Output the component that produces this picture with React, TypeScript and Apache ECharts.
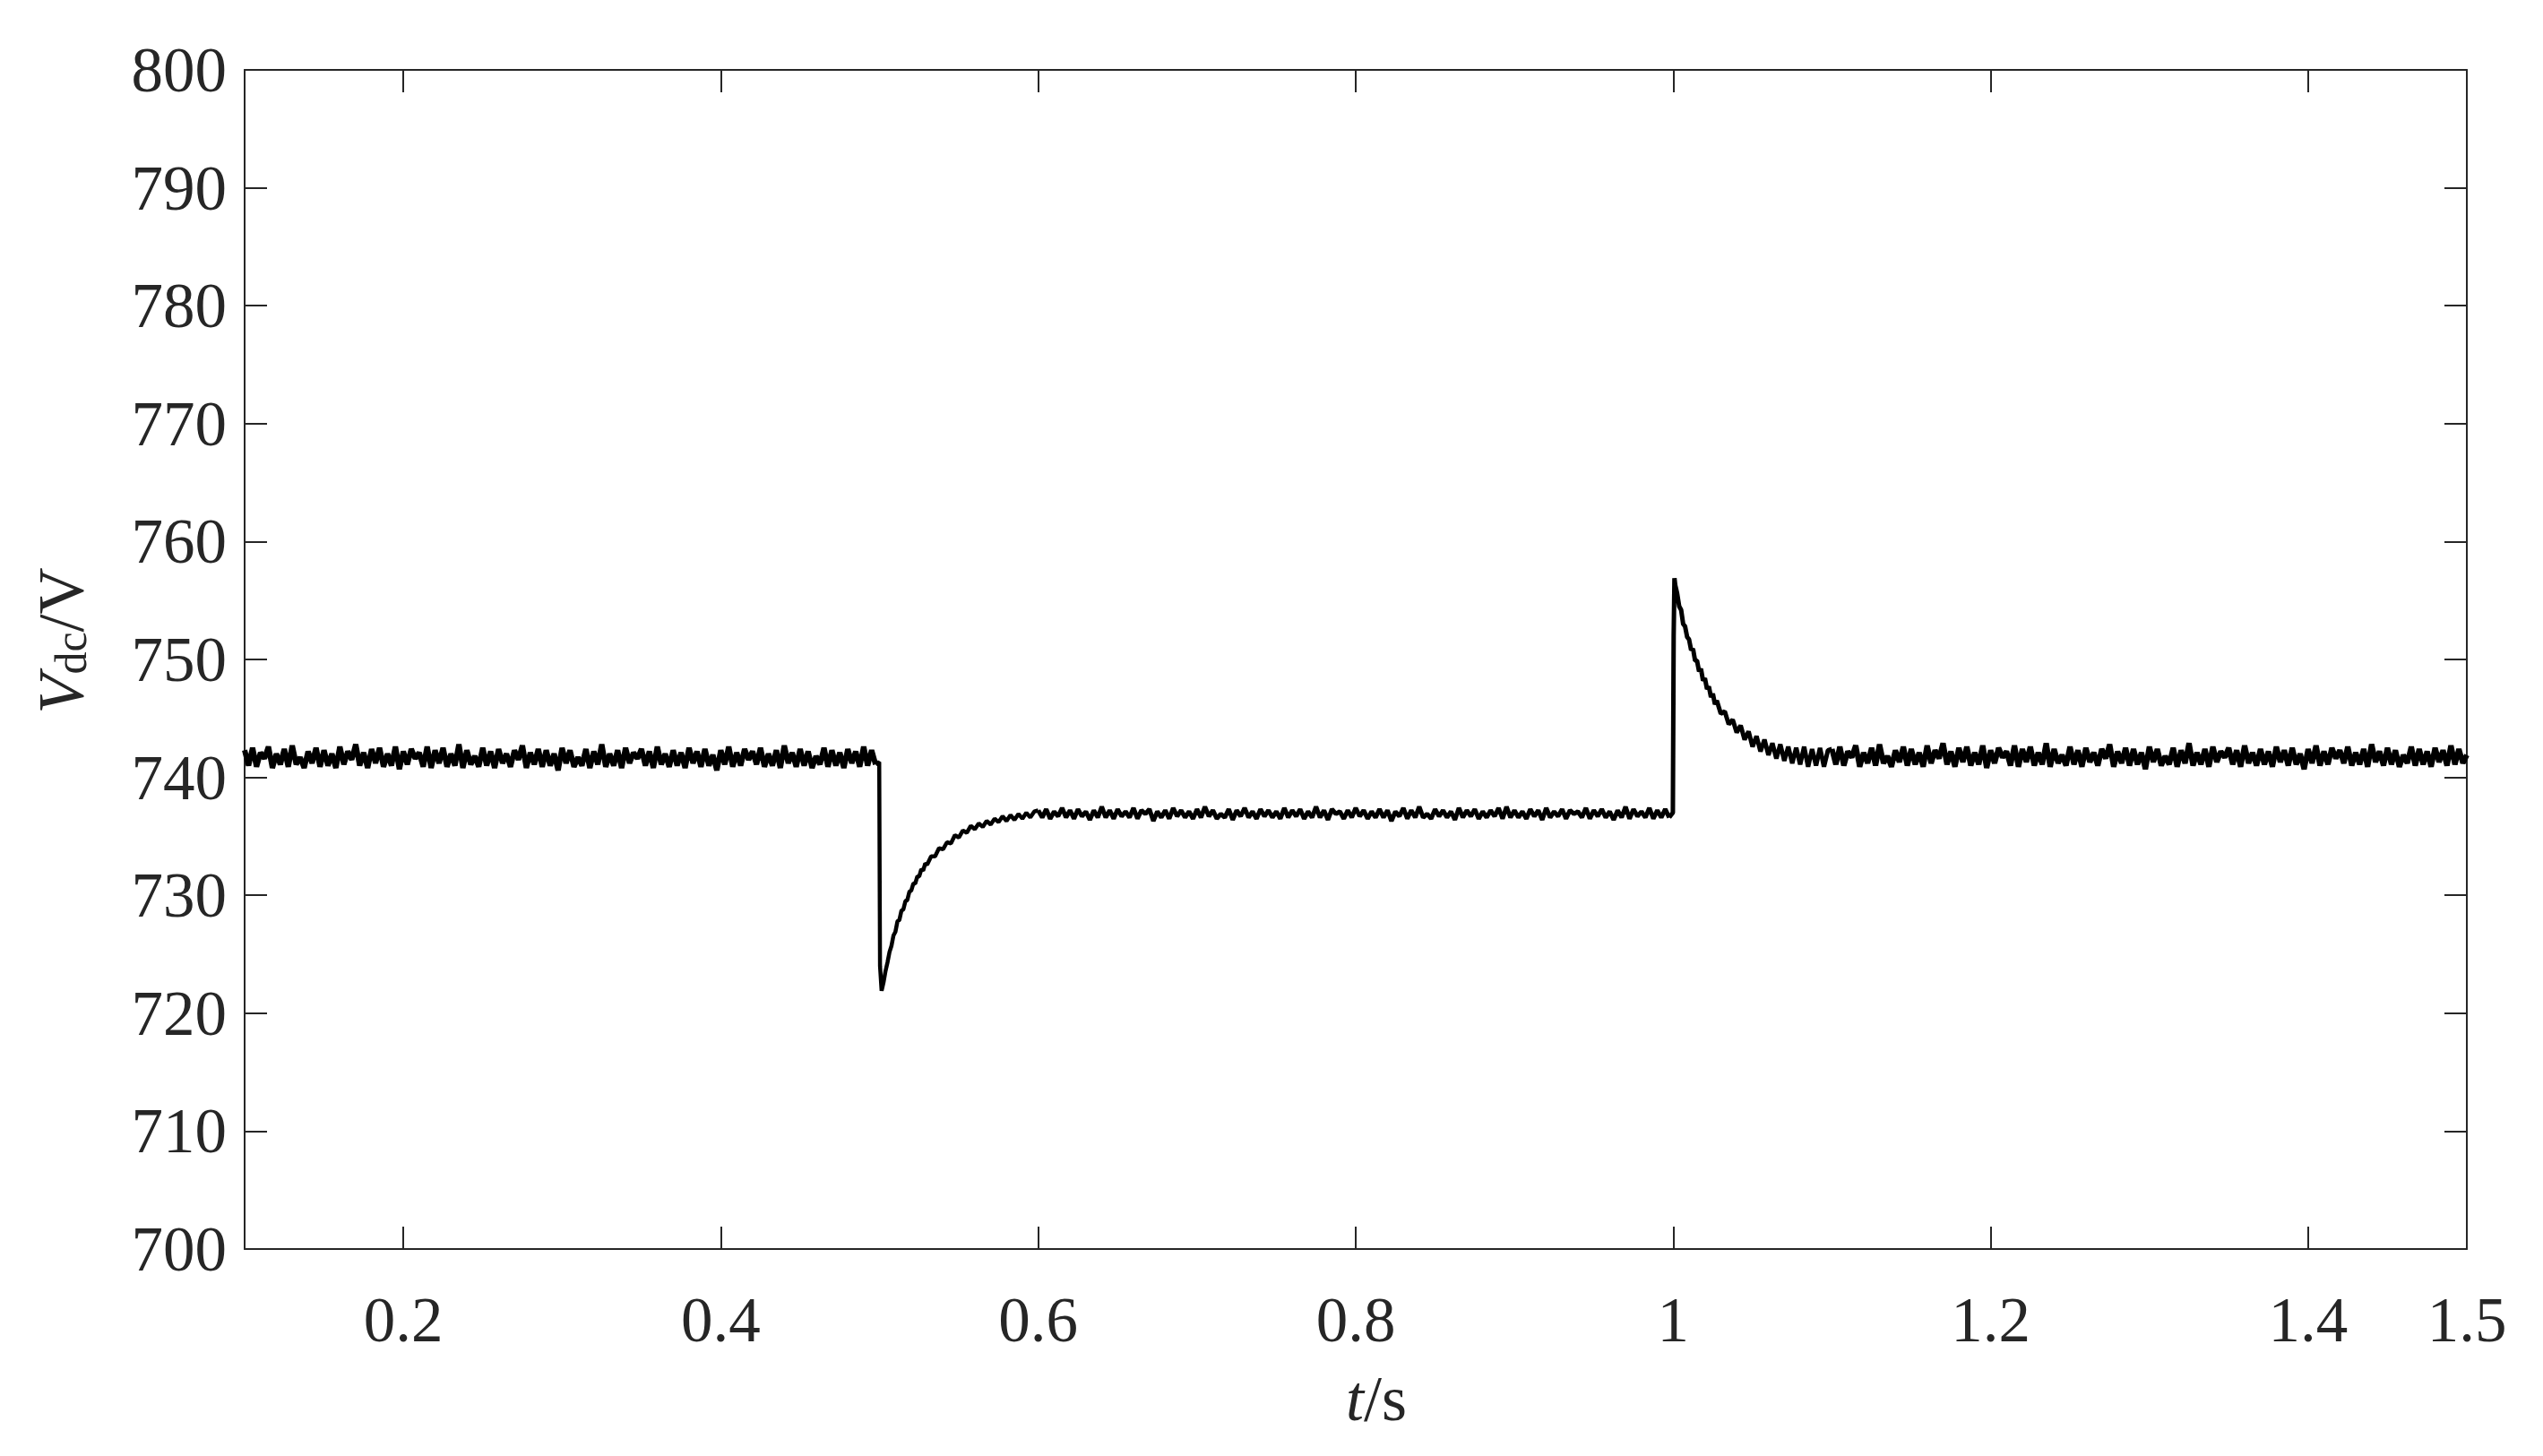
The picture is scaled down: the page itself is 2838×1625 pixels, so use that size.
import React, { useEffect, useRef } from 'react';
import * as echarts from 'echarts';

// ---------------- data ----------------
const X_MIN = 0.1;
const X_MAX = 1.5;
const Y_MIN = 700;
const Y_MAX = 800;
const Y_STEP = 10;
const xTickValues = [0.2, 0.4, 0.6, 0.8, 1, 1.2, 1.4];
const xLabelValues = [0.2, 0.4, 0.6, 0.8, 1, 1.2, 1.4, 1.5];

const SAMPLE_STEP = 0.0025;

// steady state before the load step (t = 0.1 ... 0.4975)
const preStart = 0.1;
const preValues = [
  742.3, 741.0, 742.5, 740.9, 742.1, 741.6, 742.6, 740.8, 742.0, 741.1,
  742.4, 740.9, 742.7, 741.1, 741.7, 740.8, 742.2, 741.2, 742.5, 740.9,
  742.3, 741.0, 742.0, 740.8, 742.6, 741.1, 742.2, 741.5, 742.8, 741.0,
  742.1, 740.8, 742.4, 741.2, 742.5, 740.9, 742.0, 741.0, 742.6, 740.7,
  742.2, 741.1, 742.4, 741.6, 742.1, 740.9, 742.6, 740.8, 742.3, 741.2,
  742.5, 740.9, 742.0, 741.0, 742.8, 740.8, 742.3, 741.1, 741.8, 740.9,
  742.5, 741.0, 742.2, 740.8, 742.4, 741.2, 742.0, 740.9, 742.3, 741.5,
  742.7, 740.8, 742.1, 741.1, 742.4, 740.9, 742.3, 741.0, 742.0, 740.6,
  742.5, 741.2, 742.3, 740.9, 741.7, 741.0, 742.4, 740.8, 742.2, 741.1,
  742.8, 740.9, 742.0, 741.0, 742.3, 740.8, 742.5, 741.2, 742.1, 741.6,
  742.4, 741.0, 742.2, 740.8, 742.6, 741.1, 742.0, 740.9, 742.3, 741.0,
  742.1, 740.8, 742.5, 741.2, 742.2, 740.9, 742.4, 741.0, 741.9, 740.6,
  742.3, 741.1, 742.6, 740.9, 742.1, 741.0, 742.4, 741.5, 742.2, 741.1,
  742.5, 740.9, 742.0, 741.0, 742.3, 740.8, 742.7, 741.2, 742.1, 740.9,
  742.4, 741.0, 742.2, 740.8, 741.8, 741.1, 742.5, 740.9, 742.3, 741.0,
  742.1, 740.8, 742.4, 741.2, 742.2, 740.9, 742.6, 741.0, 742.3, 741.1,
];

// drop at t = 0.5 and recovery
const dropTimes = [
  0.4998, 0.5003, 0.5013, 0.5025, 0.5038, 0.505, 0.5063, 0.5075, 0.5088, 0.51,
  0.5113, 0.5125, 0.5138, 0.515, 0.5163, 0.5175, 0.5188, 0.52, 0.5213, 0.5225,
  0.5238, 0.525, 0.5263, 0.5275, 0.5288, 0.53, 0.5325, 0.535, 0.5375, 0.54,
  0.5425, 0.545, 0.5475, 0.55, 0.5525, 0.555, 0.5575, 0.56, 0.5625, 0.565,
  0.5675, 0.57, 0.5725, 0.575, 0.5775, 0.58, 0.5825, 0.585, 0.5875, 0.59,
  0.5925, 0.595, 0.5975,
];
const dropValues = [
  741.3, 724.0, 721.9, 722.6, 723.6, 724.3, 725.2, 725.7, 726.6, 726.9,
  727.8, 727.9, 728.7, 728.8, 729.5, 729.6, 730.3, 730.4, 731.0, 731.0,
  731.6, 731.6, 732.2, 732.1, 732.7, 732.6, 733.3, 733.3, 734.0, 733.9,
  734.5, 734.4, 735.1, 734.9, 735.5, 735.3, 735.9, 735.6, 736.1, 735.8,
  736.3, 736.0, 736.5, 736.2, 736.7, 736.3, 736.8, 736.4, 736.9, 736.5,
  737.0, 736.6, 737.1,
];

// intermediate steady state (t = 0.6 ... 0.9975)
const midStart = 0.6;
const midValues = [
  737.2, 736.6, 737.3, 736.5, 737.1, 736.7, 737.4, 736.6, 737.2, 736.5,
  737.3, 736.7, 737.1, 736.4, 737.2, 736.6, 737.5, 736.6, 737.2, 736.5,
  737.3, 736.7, 737.1, 736.6, 737.4, 736.5, 737.2, 736.9, 737.3, 736.3,
  737.1, 736.6, 737.2, 736.5, 737.4, 736.7, 737.2, 736.6, 737.1, 736.5,
  737.3, 736.6, 737.5, 736.7, 737.2, 736.5, 736.9, 736.6, 737.3, 736.4,
  737.2, 736.7, 737.4, 736.6, 737.1, 736.5, 737.3, 736.7, 737.2, 736.6,
  737.1, 736.5, 737.4, 736.6, 737.2, 736.7, 737.3, 736.5, 737.1, 736.6,
  737.5, 736.6, 737.2, 736.4, 737.3, 736.9, 737.1, 736.5, 737.2, 736.6,
  737.4, 736.7, 737.2, 736.5, 737.1, 736.6, 737.3, 736.6, 737.2, 736.3,
  737.1, 736.7, 737.4, 736.5, 737.2, 736.6, 737.5, 736.6, 736.9, 736.5,
  737.3, 736.7, 737.2, 736.6, 737.1, 736.4, 737.4, 736.6, 737.2, 736.7,
  737.3, 736.5, 737.1, 736.6, 737.2, 736.7, 737.4, 736.5, 737.5, 736.6,
  737.2, 736.6, 737.1, 736.5, 737.3, 736.7, 737.2, 736.4, 737.4, 736.6,
  737.1, 736.7, 737.3, 736.5, 737.2, 736.9, 737.1, 736.6, 737.4, 736.5,
  737.2, 736.7, 737.3, 736.6, 737.1, 736.4, 737.2, 736.6, 737.5, 736.5,
  737.3, 736.7, 737.1, 736.6, 737.4, 736.5, 737.2, 736.6, 737.3, 736.6,
];

// overshoot at t = 1.0 and decay
const riseTimes = [
  0.9998, 1.0003, 1.0008, 1.0013, 1.0025, 1.0038, 1.005, 1.0063, 1.0075, 1.0088,
  1.01, 1.0113, 1.0125, 1.0138, 1.015, 1.0163, 1.0175, 1.0188, 1.02, 1.0213,
  1.0225, 1.0238, 1.025, 1.0263, 1.0275, 1.03, 1.0325, 1.035, 1.0375, 1.04,
  1.0425, 1.045, 1.0475, 1.05, 1.0525, 1.055, 1.0575, 1.06, 1.0625, 1.065,
  1.0675, 1.07, 1.0725, 1.075, 1.0775, 1.08, 1.0825, 1.085, 1.0875, 1.09,
  1.0925, 1.095, 1.0975,
];
const riseValues = [
  737.0, 752.0, 756.9, 756.3, 755.6, 754.5, 754.2, 753.0, 752.8, 751.9,
  751.7, 750.8, 750.9, 749.9, 749.9, 749.0, 749.2, 748.2, 748.4, 747.5,
  747.7, 746.8, 747.1, 746.2, 746.5, 745.4, 745.6, 744.5, 744.9, 743.8,
  744.4, 743.2, 743.9, 742.6, 743.5, 742.2, 743.2, 741.9, 742.9, 741.6,
  742.8, 741.4, 742.6, 741.2, 742.5, 741.1, 742.6, 740.9, 742.4, 741.0,
  742.5, 740.9, 742.3,
];

// final steady state (t = 1.1 ... 1.5)
const postStart = 1.1;
const postValues = [
  742.4, 741.1, 742.6, 741.0, 742.2, 741.7, 742.7, 740.9, 742.1, 741.2,
  742.5, 741.0, 742.8, 741.2, 741.8, 740.9, 742.3, 741.3, 742.6, 741.0,
  742.4, 741.1, 742.1, 740.9, 742.7, 741.2, 742.3, 741.6, 742.9, 741.1,
  742.2, 740.9, 742.5, 741.3, 742.6, 741.0, 742.1, 741.1, 742.7, 740.8,
  742.3, 741.2, 742.5, 741.7, 742.2, 741.0, 742.7, 740.9, 742.4, 741.3,
  742.6, 741.0, 742.1, 741.1, 742.9, 740.9, 742.4, 741.2, 741.9, 741.0,
  742.6, 741.1, 742.3, 740.9, 742.5, 741.3, 742.1, 741.0, 742.4, 741.6,
  742.8, 740.9, 742.2, 741.2, 742.5, 741.0, 742.4, 741.1, 742.1, 740.7,
  742.6, 741.3, 742.4, 741.0, 741.8, 741.1, 742.5, 740.9, 742.3, 741.2,
  742.9, 741.0, 742.1, 741.1, 742.4, 740.9, 742.6, 741.3, 742.2, 741.7,
  742.5, 741.1, 742.3, 740.9, 742.7, 741.2, 742.1, 741.0, 742.4, 741.1,
  742.2, 740.9, 742.6, 741.3, 742.3, 741.0, 742.5, 741.1, 742.0, 740.7,
  742.4, 741.2, 742.7, 741.0, 742.2, 741.1, 742.5, 741.6, 742.3, 741.2,
  742.6, 741.0, 742.1, 741.1, 742.4, 740.9, 742.8, 741.3, 742.2, 741.0,
  742.5, 741.1, 742.3, 740.9, 741.9, 741.2, 742.6, 741.0, 742.4, 741.1,
  742.2, 740.9, 742.5, 741.3, 742.3, 741.0, 742.7, 741.1, 742.4, 741.2,
  741.9,
];

// ---------------- build ----------------
const gridSeries = (start: number, values: number[]) =>
  values.map((v, i) => [Number((start + i * SAMPLE_STEP).toFixed(5)), v]);
const pairSeries = (times: number[], values: number[]) =>
  times.map((t, i) => [t, values[i]]);

const preData = gridSeries(preStart, preValues);
const midData = gridSeries(midStart, midValues);
const postData = gridSeries(postStart, postValues);
// transients are joined to the neighbouring steady-state samples
const dropData = [preData[preData.length - 1], ...pairSeries(dropTimes, dropValues), midData[0]];
const riseData = [midData[midData.length - 1], ...pairSeries(riseTimes, riseValues), postData[0]];

const FONT = '"Liberation Serif", "Times New Roman", serif';
const AXIS_COLOR = '#262626';
const TEXT_COLOR = '#262626';

const lineSeries = (data: number[][], width: number) => ({
  type: 'line',
  xAxisIndex: 0,
  yAxisIndex: 0,
  data,
  showSymbol: false,
  symbol: 'none',
  lineStyle: { color: '#000000', width },
  emphasis: { disabled: true },
  z: 3,
});

export default function App() {
  const ref = useRef<HTMLDivElement>(null);

  useEffect(() => {
    if (!ref.current) return;
    const chart = echarts.init(ref.current, undefined, { renderer: 'svg' });

    const axisLine = { show: true, onZero: false, lineStyle: { color: AXIS_COLOR, width: 2 } };
    const tickStyle = { color: AXIS_COLOR, width: 2 };

    const option: any = {
      animation: false,
      backgroundColor: '#ffffff',
      grid: {
        left: 273,
        right: 85,
        top: 78,
        bottom: 231,
        containLabel: false,
        outerBoundsMode: 'none',
      },
      xAxis: [
        {
          type: 'value',
          position: 'bottom',
          min: X_MIN,
          max: X_MAX,
          axisLine,
          axisTick: { show: true, inside: true, length: 25, customValues: xTickValues, lineStyle: tickStyle },
          axisLabel: {
            show: true,
            customValues: xLabelValues,
            fontFamily: FONT,
            fontSize: 71,
            color: TEXT_COLOR,
            margin: 43,
            formatter: (v: number) => String(v),
          },
          splitLine: { show: false },
        },
        {
          type: 'value',
          position: 'top',
          min: X_MIN,
          max: X_MAX,
          axisLine,
          axisTick: { show: true, inside: true, length: 25, customValues: xTickValues, lineStyle: tickStyle },
          axisLabel: { show: false },
          splitLine: { show: false },
        },
      ],
      yAxis: [
        {
          type: 'value',
          position: 'left',
          min: Y_MIN,
          max: Y_MAX,
          interval: Y_STEP,
          axisLine,
          axisTick: { show: true, inside: true, length: 25, lineStyle: tickStyle },
          axisLabel: {
            show: true,
            fontFamily: FONT,
            fontSize: 71,
            color: TEXT_COLOR,
            margin: 20,
          },
          splitLine: { show: false },
        },
        {
          type: 'value',
          position: 'right',
          min: Y_MIN,
          max: Y_MAX,
          interval: Y_STEP,
          axisLine,
          axisTick: { show: true, inside: true, length: 25, lineStyle: tickStyle },
          axisLabel: { show: false },
          splitLine: { show: false },
        },
      ],
      series: [
        lineSeries(preData, 6),
        lineSeries(dropData, 4.5),
        lineSeries(midData, 5),
        lineSeries(riseData, 5),
        lineSeries(postData, 6),
      ],
      graphic: [
        {
          type: 'text',
          x: 1536,
          y: 1561,
          style: {
            text: '{i|t}{n|/s}',
            align: 'center',
            verticalAlign: 'middle',
            textAlign: 'center',
            textVerticalAlign: 'middle',
            fill: TEXT_COLOR,
            rich: {
              i: { fontFamily: FONT, fontSize: 72, fontStyle: 'italic', fill: TEXT_COLOR, color: TEXT_COLOR },
              n: { fontFamily: FONT, fontSize: 72, fill: TEXT_COLOR, color: TEXT_COLOR },
            },
          },
        },
        {
          type: 'text',
          x: 64,
          y: 715,
          rotation: Math.PI / 2,
          style: {
            text: '{i|V}{s|dc}{n|/V}',
            align: 'center',
            verticalAlign: 'middle',
            textAlign: 'center',
            textVerticalAlign: 'middle',
            fill: TEXT_COLOR,
            rich: {
              i: { fontFamily: FONT, fontSize: 72, fontStyle: 'italic', fill: TEXT_COLOR, color: TEXT_COLOR, verticalAlign: 'bottom', lineHeight: 80 },
              s: { fontFamily: FONT, fontSize: 50, fill: TEXT_COLOR, color: TEXT_COLOR, verticalAlign: 'bottom', lineHeight: 80 },
              n: { fontFamily: FONT, fontSize: 72, fill: TEXT_COLOR, color: TEXT_COLOR, verticalAlign: 'bottom', lineHeight: 80 },
            },
          },
        },
      ],
    };

    chart.setOption(option);
    return () => {
      chart.dispose();
    };
  }, []);

  return (
    <div
      ref={ref}
      style={{ position: 'fixed', left: 0, top: 0, width: 2838, height: 1625, background: '#fff' }}
    />
  );
}
